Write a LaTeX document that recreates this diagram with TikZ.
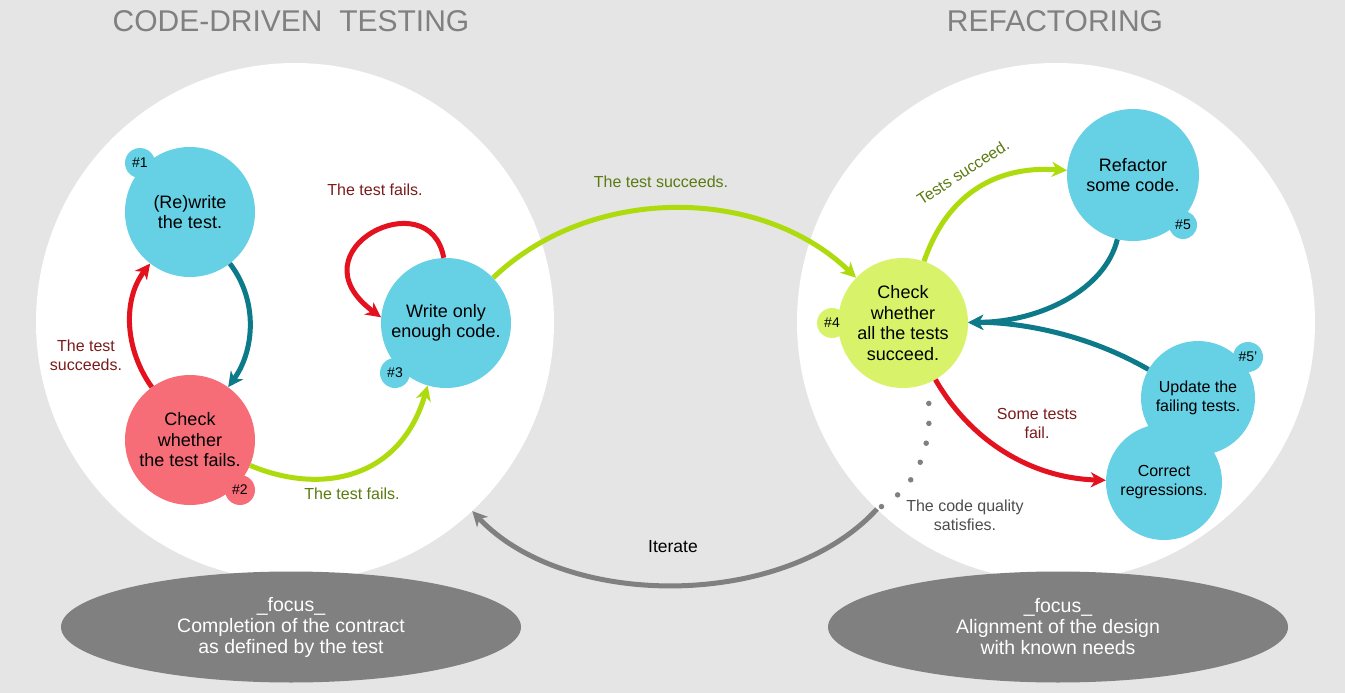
\documentclass[tikz,border=0pt]{standalone}
\usepackage{fontspec}
\setmainfont{Liberation Sans}
\usetikzlibrary{arrows.meta,shapes.geometric}
\definecolor{bgc}{HTML}{E5E5E5}
\definecolor{titlec}{HTML}{808080}
\definecolor{ellc}{HTML}{808080}
\definecolor{cyanc}{HTML}{66D0E4}
\definecolor{pinkc}{HTML}{F66D78}
\definecolor{limec}{HTML}{D8F36A}
\definecolor{tealc}{HTML}{0D7A8A}
\definecolor{redc}{HTML}{E4111F}
\definecolor{greenc}{HTML}{AEDB0E}
\definecolor{maroonc}{HTML}{7B1C1C}
\definecolor{olivec}{HTML}{5B7A10}
\definecolor{grayt}{HTML}{4D4D4D}
\definecolor{itc}{HTML}{808080}
\begin{document}
\begin{tikzpicture}[x=1pt,y=-1pt,
  bigcircle/.style={circle, fill=white, inner sep=0pt, minimum size=518pt},
  focus/.style={ellipse, fill=ellc, inner sep=0pt, minimum width=460pt, minimum height=111pt, text=white, align=center, font=\fontsize{19.5}{21}\selectfont},
  title/.style={text=titlec, font=\fontsize{30}{34}\selectfont},
  stage/.style={circle, inner sep=0pt, minimum size=130pt, align=center, text=black, font=\fontsize{18}{20.5}\selectfont},
  small/.style={circle, inner sep=0pt, minimum size=114pt, align=center, text=black, font=\fontsize{16}{18.5}\selectfont},
  badge/.style={circle, inner sep=0pt, minimum size=30pt, text=black, font=\fontsize{14}{16}\selectfont},
  lbl/.style={align=center, font=\fontsize{16}{19}\selectfont},
  flow/.style={line width=5pt, -{Stealth[length=15pt,width=15pt,inset=4.5pt]}},
]
\fill[bgc] (0,0) rectangle (1345,693);
\useasboundingbox (0,0) rectangle (1345,693);

% big circles
\node[bigcircle] (L) at (295,322) {};
\node[bigcircle] (R) at (1056,322) {};

% focus ellipses
\node[focus] (fL) at (291,627) {\_focus\_\\Completion of the contract\\as defined by the test};
\node[focus] (fR) at (1058,627) {\_focus\_\\Alignment of the design\\with known needs};

% titles
\node[title] (tL) at (291,21) {CODE-DRIVEN\ \ TESTING};
\node[title] (tR) at (1055,21) {REFACTORING};

% stages
\node[stage, fill=cyanc] (n1) at (190,212) {(Re)write\\the test.};
\node[stage, fill=pinkc] (n2) at (190,440) {Check\\whether\\the test fails.};
\node[stage, fill=cyanc] (n3) at (446,323) {Write only\\enough code.};
\node[stage, fill=limec] (n4) at (903,323) {Check\\whether\\all the tests\\succeed.};
\node[stage, fill=cyanc, minimum size=132pt] (n5) at (1133,175) {Refactor\\some code.};
\node[small, fill=cyanc] (n5p) at (1198,398) {Update the\\failing tests.};
\node[small, fill=cyanc, minimum size=116pt] (n6) at (1164,482) {Correct\\regressions.};

% badges
\node[badge, fill=cyanc] (b1) at (140,163) {\#1};
\node[badge, fill=pinkc] (b2) at (240,490) {\#2};
\node[badge, fill=cyanc] (b3) at (395,373) {\#3};
\node[badge, fill=limec] (b4) at (832,323) {\#4};
\node[badge, fill=cyanc, minimum size=28pt] (b5) at (1183,225) {\#5};
\node[badge, fill=cyanc] (b5p) at (1248,357) {\#5'};

% labels
\node[lbl, text=maroonc] (l1) at (375,190) {The test fails.};
\node[lbl, text=maroonc] (l2) at (86,355) {The test\\succeeds.};
\node[lbl, text=olivec] (l3) at (352,494) {The test fails.};
\node[lbl, text=olivec] (l4) at (661,182) {The test succeeds.};
\node[lbl, text=olivec, rotate=33] (l5) at (963,172) {Tests succeed.};
\node[lbl, text=maroonc] (l6) at (1037,423) {Some tests\\fail.};
\node[lbl, text=grayt] (l7) at (965,515) {The code quality\\satisfies.};
\node[lbl, text=black, font=\fontsize{17.5}{20}\selectfont] (l8) at (673,547) {Iterate};

\coordinate (itS) at (877,509);

% connectors
\draw[flow, tealc] (n1) .. controls (258,300) and (255,350) .. (n2);
\draw[flow, redc] (n2) .. controls (125,350) and (122,300) .. (n1);
\draw[flow, redc] (n3.92) .. controls (430,180) and (290,250) .. (n3.175);
\draw[flow, greenc] (n2) .. controls (320,495) and (400,480) .. (n3);
\draw[flow, greenc] (n3) .. controls (590,185) and (760,185) .. (n4);
\draw[flow, greenc] (n4) .. controls (945,200) and (990,165) .. (n5);
\draw[flow, tealc] (n5) .. controls (1105,290) and (1040,322) .. (n4);
\draw[flow, tealc] (n5p) .. controls (1080,330) and (1010,322) .. (n4);
\draw[flow, redc] (n4) .. controls (970,440) and (1030,478) .. (n6);
\draw[itc, line width=5.5pt, line cap=round, dash pattern=on 0pt off 20pt, shorten <=20pt]
  (n4.-68) .. controls (932,450) and (915,490) .. (itS);
\draw[flow, itc] (itS) .. controls (785,610) and (565,610) .. (L);
\end{tikzpicture}
\end{document}
